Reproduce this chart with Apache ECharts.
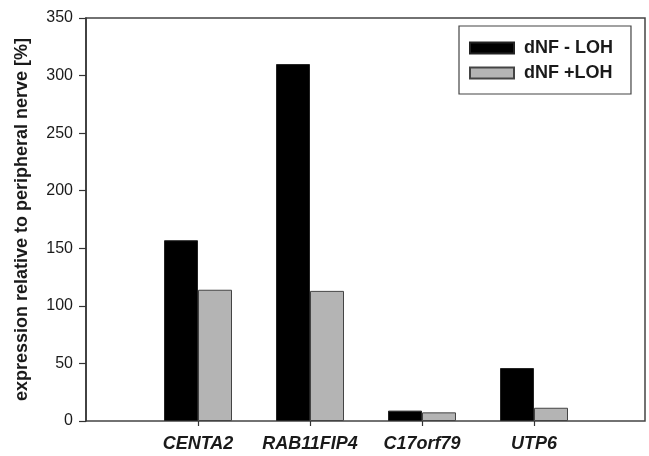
<!DOCTYPE html>
<html>
<head>
<meta charset="utf-8">
<script src="https://cdn.jsdelivr.net/npm/echarts@6/dist/echarts.min.js"></script>
<style>html,body{margin:0;padding:0;background:#fff}#c{width:649px;height:456px}</style>
</head>
<body>
<div id="c"></div>
<script>
const categories = ['CENTA2', 'RAB11FIP4', 'C17orf79', 'UTP6'];
const seriesNames = ['dNF - LOH', 'dNF +LOH'];
const dnfMinusLoh = [157, 310, 9, 46];
const dnfPlusLoh = [114, 113, 7.5, 11.5];
const yTicks = { min: 0, max: 350, interval: 50 };
const yTitle = 'expression relative to peripheral nerve [%]';

const FONT = '"Liberation Sans", Arial, sans-serif';
const chart = echarts.init(document.getElementById('c'));
chart.setOption({
  animation: false,
  backgroundColor: '#fff',
  grid: [
    { left: 86, right: 4, top: 18, bottom: 35, show: true, borderColor: '#444', borderWidth: 1.5, backgroundColor: 'transparent' },
    { left: 142, right: 59, top: 18, bottom: 35 }
  ],
  xAxis: [
    { gridIndex: 0, type: 'value', min: 0, max: 1, show: false },
    { gridIndex: 1, type: 'category', data: categories,
      axisLine: { show: false },
      axisTick: { show: true, alignWithLabel: true, interval: 0, length: 5, lineStyle: { color: '#333', width: 1.2 } },
      axisLabel: { interval: 0, margin: 14, fontFamily: FONT, fontSize: 18, fontWeight: 'bold', fontStyle: 'italic', color: '#1a1a1a' } }
  ],
  yAxis: [
    { gridIndex: 0, type: 'value', min: yTicks.min, max: yTicks.max, interval: yTicks.interval,
      name: yTitle, nameLocation: 'middle', nameGap: 55,
      nameTextStyle: { fontFamily: FONT, fontSize: 18, fontWeight: 'bold', color: '#1a1a1a' },
      axisLine: { show: true, lineStyle: { color: '#333', width: 1.5 } },
      axisTick: { show: true, length: 7, lineStyle: { color: '#333', width: 1.2 } },
      axisLabel: { margin: 13, fontFamily: FONT, fontSize: 16, color: '#1a1a1a' },
      splitLine: { show: false } },
    { gridIndex: 1, type: 'value', min: yTicks.min, max: yTicks.max, interval: yTicks.interval, show: false, splitLine: { show: false } }
  ],
  legend: {
    data: seriesNames,
    left: 459, top: 26,
    orient: 'vertical',
    padding: [13, 18, 12, 10],
    borderColor: '#444', borderWidth: 1.2,
    itemWidth: 44, itemHeight: 11, itemGap: 7,
    icon: 'rect',
    textStyle: { fontFamily: FONT, fontSize: 18, fontWeight: 'bold', color: '#1a1a1a', padding: [0, 0, 0, 5] }
  },
  series: [
    { name: seriesNames[0], type: 'bar', xAxisIndex: 1, yAxisIndex: 1, data: dnfMinusLoh,
      barWidth: 34, barGap: '0%',
      itemStyle: { color: '#000', borderColor: '#222', borderWidth: 1 } },
    { name: seriesNames[1], type: 'bar', xAxisIndex: 1, yAxisIndex: 1, data: dnfPlusLoh,
      barWidth: 34, barGap: '0%',
      itemStyle: { color: '#b4b4b4', borderColor: '#444', borderWidth: 1 } }
  ]
});
</script>
</body>
</html>
